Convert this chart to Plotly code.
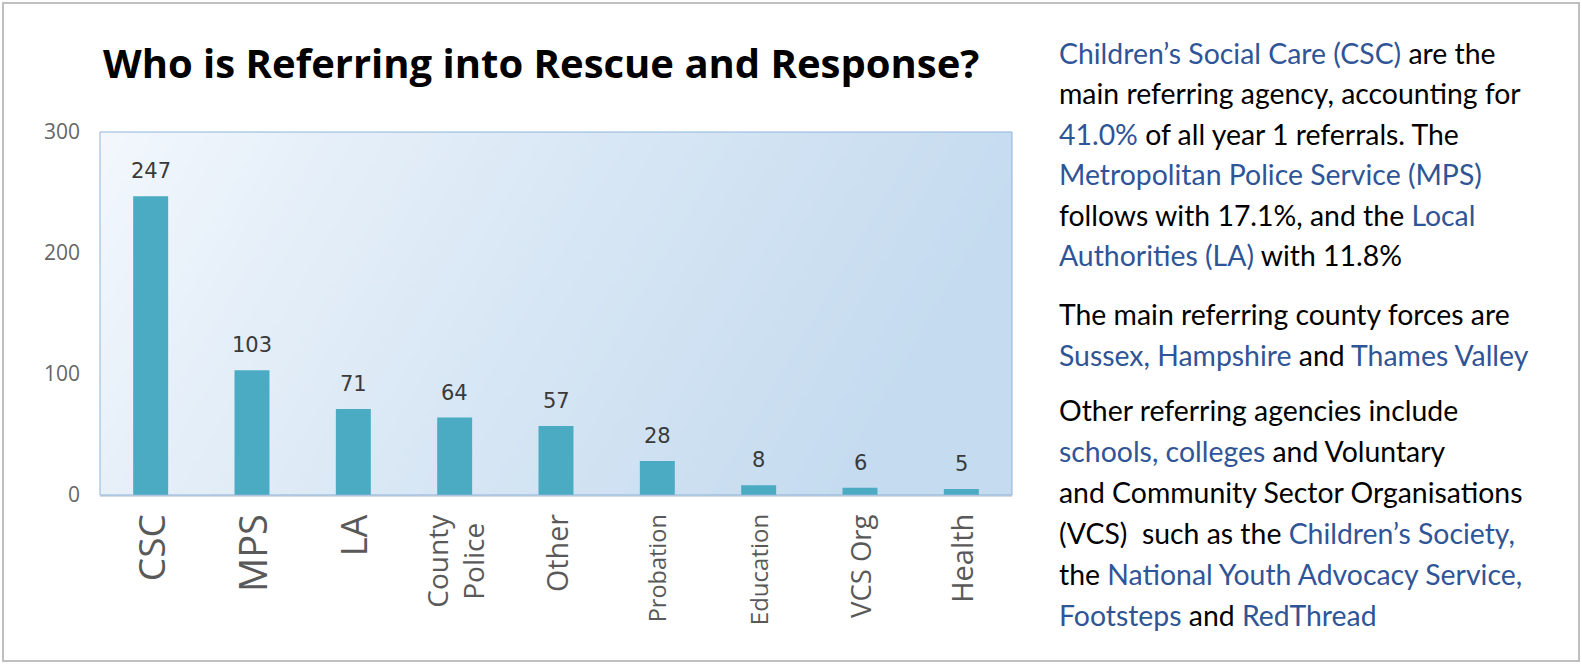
import glob, zlib, struct, base64
import plotly.graph_objects as go

# ---------------- data ----------------
categories = ["CSC", "MPS", "LA", "County Police", "Other", "Probation", "Education", "VCS Org", "Health"]
tick_labels = ["CSC", "MPS", "LA", "County<br>Police", "Other", "Probation", "Education", "VCS Org", "Health"]
referrals = [247, 103, 71, 64, 57, 28, 8, 6, 5]
y_ticks = [0, 100, 200, 300]

title_text = "Who is Referring into Rescue and Response?"

# right-hand commentary: list of paragraphs -> lines -> (colour key, text) segments
commentary = [
    [[("b", "Children’s Social Care (CSC)"), ("k", " are the")],
     [("k", "main referring agency, accounting for")],
     [("b", "41.0%"), ("k", " of all year 1 referrals. The")],
     [("b", "Metropolitan Police Service (MPS)")],
     [("k", "follows with 17.1%, and the "), ("b", "Local")],
     [("b", "Authorities (LA)"), ("k", " with 11.8%")]],
    [[("k", "The main referring county forces are")],
     [("b", "Sussex, Hampshire"), ("k", " and "), ("b", "Thames Valley")]],
    [[("k", "Other referring agencies include")],
     [("b", "schools, colleges"), ("k", " and Voluntary")],
     [("k", "and Community Sector Organisations")],
     [("k", "(VCS)\u00a0 such as the "), ("b", "Children’s Society,")],
     [("k", "the "), ("b", "National Youth Advocacy Service,")],
     [("b", "Footsteps"), ("k", " and "), ("b", "RedThread")]],
]

# ---------------- layout geometry (pixels) ----------------
W_FIG, H_FIG = 1582, 664
L, R, T, B = 100, 1012, 132, 495
PW, PH = R - L, B - T

def px(x):
    return (x - L) / PW

def py(y):
    return (B - y) / PH

# ---------------- fonts for category labels ----------------
narrow_available = bool(glob.glob("/usr/share/fonts/**/LiberationSansNarrow*", recursive=True))
if narrow_available:
    cond_family = "Liberation Sans Narrow"
    label_style = {"CSC": ("Open Sans", 37), "MPS": ("Open Sans", 38), "LA": ("Open Sans", 36),
                   "County<br>Police": (cond_family, 36), "Other": (cond_family, 37),
                   "Probation": (cond_family, 31), "Education": (cond_family, 32),
                   "VCS Org": (cond_family, 33), "Health": (cond_family, 38)}
else:
    cond_family = "Open Sans"
    label_style = {"CSC": ("Open Sans", 37), "MPS": ("Open Sans", 38), "LA": ("Open Sans", 36),
                   "County<br>Police": (cond_family, 28), "Other": (cond_family, 28.7),
                   "Probation": (cond_family, 23.5), "Education": (cond_family, 24),
                   "VCS Org": (cond_family, 27.5), "Health": (cond_family, 29)}

# ---------------- gradient background image ----------------
def gradient_png(w=240, h=96):
    c0 = (244, 248, 253)
    c1 = (197, 219, 239)
    rows = []
    for j in range(h):
        v = j / (h - 1)
        row = bytearray([0])
        for i in range(w):
            u = i / (w - 1)
            t = min(1.0, u * 0.95 + v * 0.22) ** 0.85
            row += bytes(int(round(c0[k] + (c1[k] - c0[k]) * t)) for k in range(3))
        rows.append(bytes(row))
    raw = b"".join(rows)

    def chunk(tag, data):
        c = struct.pack(">I", len(data)) + tag + data
        return c + struct.pack(">I", zlib.crc32(tag + data) & 0xffffffff)

    png = (b"\x89PNG\r\n\x1a\n"
           + chunk(b"IHDR", struct.pack(">IIBBBBB", w, h, 8, 2, 0, 0, 0))
           + chunk(b"IDAT", zlib.compress(raw, 9))
           + chunk(b"IEND", b""))
    return "data:image/png;base64," + base64.b64encode(png).decode()

# ---------------- figure ----------------
fig = go.Figure()
fig.add_trace(go.Bar(
    x=categories, y=referrals,
    marker=dict(color="#4AABC3", line=dict(width=0)),
    width=0.345,
    hoverinfo="x+y",
))

annotations = []
# value labels above bars
for c, v in zip(categories, referrals):
    annotations.append(dict(
        x=c, y=v, xref="x", yref="y", text=str(v), showarrow=False,
        yanchor="middle", yshift=25,
        font=dict(family="DejaVu Sans", size=21, color="#3a3a3a")))

# category labels under the axis (rotated)
for c, lbl in zip(categories, tick_labels):
    fam, size = label_style[lbl]
    annotations.append(dict(
        x=c, y=py(512), xref="x", yref="paper", text=lbl, showarrow=False,
        textangle=-90, xanchor="center", yanchor="top", align="center",
        font=dict(family=fam, size=size, color="#595959")))

# title
annotations.append(dict(
    x=px(101), y=py(62), xref="paper", yref="paper", xanchor="left", yanchor="middle",
    text=f"<b>{title_text}</b>", showarrow=False,
    font=dict(family="Open Sans", size=40, color="#000000")))

# commentary lines
BLUE, BLACK = "#2F5597", "#000000"
para_line_y = [
    [53, 93.4, 133.8, 174.2, 214.6, 255],
    [314, 355],
    [410, 451, 492, 533, 574, 615],
]
for para, ys in zip(commentary, para_line_y):
    for line, yy in zip(para, ys):
        html = "".join(
            f'<span style="color:{BLUE if k == "b" else BLACK}">{t}</span>' for k, t in line)
        annotations.append(dict(
            x=px(1057), y=py(yy), xref="paper", yref="paper", xanchor="left", yanchor="middle",
            text=html, showarrow=False, align="left",
            font=dict(family="Lato", size=28.4, color=BLACK)))

shapes = [
    # plot-area border
    dict(type="rect", xref="paper", yref="paper", x0=0, x1=1, y0=0, y1=1,
         line=dict(color="#8DB3DA", width=1), fillcolor="rgba(0,0,0,0)", layer="above"),
    # outer frame
    dict(type="rect", xref="paper", yref="paper", x0=px(3), x1=px(1579), y0=py(661), y1=py(3),
         line=dict(color="#C0C0C0", width=2), fillcolor="rgba(0,0,0,0)", layer="above"),
]

fig.update_layout(
    width=W_FIG, height=H_FIG,
    margin=dict(l=L, r=W_FIG - R, t=T, b=H_FIG - B, pad=0),
    paper_bgcolor="#FFFFFF",
    plot_bgcolor="#DDE9F5",
    showlegend=False,
    bargap=0.655,
    annotations=annotations,
    shapes=shapes,
    images=[dict(source=gradient_png(), xref="paper", yref="paper", x=0, y=1,
                 sizex=1, sizey=1, xanchor="left", yanchor="top",
                 sizing="stretch", layer="below")],
    xaxis=dict(
        categoryorder="array", categoryarray=categories,
        showticklabels=False, ticks="", showgrid=False,
        showline=True, linecolor="#D3DAE3", linewidth=2,
    ),
    yaxis=dict(
        range=[0, 300], tickmode="array", tickvals=y_ticks,
        ticks="", showgrid=False, zeroline=False, showline=False,
        tickfont=dict(family="Open Sans", size=21, color="#666666"),
        ticklabelstandoff=19,
    ),
)

fig.write_html(
    "out.html",
    config={"displayModeBar": False},
    post_script="document.body.style.margin='0';document.body.style.overflow='hidden';",
)
